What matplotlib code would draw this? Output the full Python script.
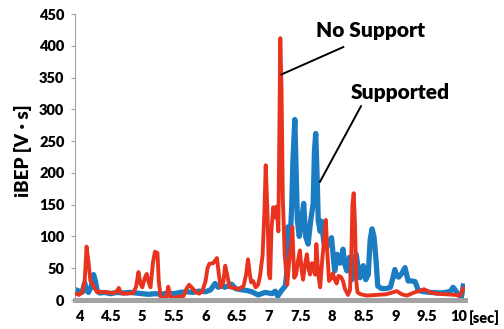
import matplotlib
matplotlib.use('Agg')
import matplotlib.pyplot as plt
import numpy as np

plt.rcParams['font.family'] = ['Lato', 'DejaVu Sans']
plt.rcParams['font.weight'] = 'heavy'

# time [sec] / iBEP [V.s] for the trial without support (red)
t_nosup = [3.95, 4.00, 4.05, 4.09, 4.12, 4.15, 4.18, 4.21, 4.25, 4.29, 4.35, 4.45,
           4.55, 4.60, 4.63, 4.66, 4.75, 4.85, 4.90, 4.94, 4.97, 5.00, 5.04, 5.07,
           5.10, 5.13, 5.17, 5.20, 5.24, 5.26, 5.29, 5.33, 5.38, 5.41, 5.44, 5.49,
           5.55, 5.65, 5.70, 5.74, 5.78, 5.84, 5.90, 5.95, 6.00, 6.03, 6.06, 6.12,
           6.18, 6.21, 6.24, 6.28, 6.31, 6.34, 6.38, 6.45, 6.52, 6.60, 6.64, 6.67,
           6.70, 6.72, 6.75, 6.79, 6.83, 6.86, 6.90, 6.93, 6.95, 6.98, 7.00, 7.02,
           7.04, 7.07, 7.10, 7.12, 7.15, 7.17, 7.18, 7.20, 7.22, 7.25, 7.29, 7.32,
           7.35, 7.37, 7.40, 7.43, 7.46, 7.49, 7.52, 7.54, 7.57, 7.60, 7.63, 7.65,
           7.68, 7.70, 7.73, 7.75, 7.78, 7.81, 7.84, 7.87, 7.90, 7.92, 7.95, 7.99,
           8.01, 8.04, 8.07, 8.10, 8.14, 8.17, 8.20, 8.25, 8.28, 8.30, 8.32, 8.34,
           8.36, 8.38, 8.40, 8.45, 8.55, 8.70, 8.85, 8.95, 9.02, 9.10, 9.18, 9.30,
           9.40, 9.45, 9.55, 9.65, 9.80, 9.95, 10.02, 10.07]
v_nosup = [10, 8, 12, 30, 84, 60, 30, 26, 18, 12, 13, 12,
           11, 14, 19, 11, 10, 11, 20, 44, 26, 20, 35, 41,
           28, 20, 60, 76, 74, 30, 5, 3, 4, 21, 6, 3,
           5, 6, 18, 24, 20, 13, 10, 14, 30, 50, 57, 58,
           66, 40, 20, 28, 54, 40, 20, 19, 17, 22, 40, 64,
           40, 28, 30, 20, 24, 38, 70, 140, 212, 130, 40, 34,
           110, 146, 130, 147, 108, 300, 412, 330, 160, 72, 24, 60,
           85, 115, 35, 40, 62, 78, 45, 32, 55, 72, 48, 40,
           58, 50, 40, 88, 40, 20, 60, 92, 126, 80, 30, 35,
           42, 32, 26, 38, 36, 30, 18, 8, 15, 60, 150, 168,
           120, 30, 12, 9, 7, 8, 9, 12, 14, 9, 7, 12,
           15, 17, 12, 10, 9, 8, 7, 18]

# time [sec] / iBEP [V.s] for the supported trial (blue)
t_sup = [3.95, 4.00, 4.05, 4.09, 4.12, 4.15, 4.19, 4.23, 4.26, 4.29, 4.33, 4.40,
         4.50, 4.60, 4.70, 4.80, 4.90, 5.00, 5.10, 5.20, 5.30, 5.40, 5.50, 5.60,
         5.70, 5.80, 5.90, 6.00, 6.08, 6.15, 6.20, 6.25, 6.30, 6.35, 6.41, 6.47,
         6.57, 6.65, 6.73, 6.83, 6.94, 7.05, 7.10, 7.14, 7.20, 7.26, 7.28, 7.30,
         7.33, 7.36, 7.38, 7.41, 7.43, 7.45, 7.48, 7.52, 7.55, 7.58, 7.62, 7.66,
         7.70, 7.72, 7.74, 7.76, 7.78, 7.81, 7.83, 7.87, 7.91, 7.95, 7.99, 8.02,
         8.04, 8.08, 8.12, 8.15, 8.17, 8.20, 8.23, 8.27, 8.31, 8.35, 8.38, 8.41,
         8.44, 8.49, 8.53, 8.57, 8.60, 8.63, 8.66, 8.69, 8.72, 8.78, 8.85, 8.92,
         8.96, 8.99, 9.02, 9.05, 9.10, 9.15, 9.20, 9.25, 9.31, 9.36, 9.45, 9.55,
         9.70, 9.80, 9.87, 9.91, 9.95, 9.98, 10.04, 10.07]
v_sup = [16, 14, 12, 27, 15, 12, 20, 40, 30, 14, 11, 12,
         10, 12, 11, 12, 11, 10, 9, 10, 9, 11, 10, 12,
         13, 12, 14, 13, 16, 26, 20, 24, 20, 22, 25, 18,
         16, 15, 13, 8, 12, 10, 14, 6, 15, 22, 40, 115,
         82, 145, 220, 284, 205, 125, 100, 130, 152, 100, 88, 125,
         152, 235, 262, 200, 125, 108, 124, 90, 82, 92, 98, 65,
         46, 72, 58, 60, 80, 56, 46, 67, 32, 55, 72, 50,
         35, 54, 32, 40, 95, 112, 100, 66, 22, 18, 18, 20,
         35, 48, 38, 36, 42, 51, 30, 30, 29, 15, 13, 12,
         11, 12, 14, 20, 15, 10, 4, 22]

xticks = [4, 4.5, 5, 5.5, 6, 6.5, 7, 7.5, 8, 8.5, 9, 9.5, 10]
xticklabels = ['4', '4.5', '5', '5.5', '6', '6.5', '7', '7.5', '8', '8.5', '9', '9.5', '10']
yticks = [0, 50, 100, 150, 200, 250, 300, 350, 400, 450]

fig = plt.figure(figsize=(5.04, 3.29), dpi=100)
ax = fig.add_axes([0.1498, 0.0881, 0.7728, 0.8693])

ax.plot(t_sup, v_sup, color='#1b7cc2', lw=3.8, solid_joinstyle='round', zorder=2)
ax.plot(t_nosup, v_nosup, color='#e8341f', lw=2.8, solid_joinstyle='round', zorder=3)

# thick grey base line
ax.axhline(0, color='#a3a3a3', lw=3.6, zorder=4, clip_on=False)

ax.set_xlim(3.945, 10.098)
ax.set_ylim(0, 450)
ax.set_xticks(xticks)
ax.set_xticklabels(xticklabels)
ax.set_yticks(yticks)
for s in ['top', 'right', 'bottom']:
    ax.spines[s].set_visible(False)
ax.spines['left'].set_color('#a3a3a3')
ax.spines['left'].set_linewidth(0.8)
ax.tick_params(axis='x', length=0, pad=7, labelsize=10.5)
ax.tick_params(axis='y', length=3, width=0.8, color='#a3a3a3', pad=5, labelsize=10.5)
for lab in ax.get_xticklabels() + ax.get_yticklabels():
    lab.set_fontweight('heavy')

ax.text(10.4, -27, '[sec]', ha='center', va='center', fontsize=10.5,
        fontweight='heavy', clip_on=False)
fig.text(23/504, 1-151/329, 'iBEP [V · s]', rotation=90, ha='center', va='center',
         fontsize=13.5, fontweight='heavy')

# annotations
ax.plot([8.175, 7.20], [398, 355], color='k', lw=1.4, zorder=5)
ax.plot([8.455, 7.807], [305, 186], color='k', lw=1.4, zorder=5)
ax.text(8.61, 424.5, 'No Support', ha='center', va='center', fontsize=15, fontweight='heavy')
ax.text(9.08, 326, 'Supported', ha='center', va='center', fontsize=15, fontweight='heavy')

fig.savefig('out.png', dpi=100)
